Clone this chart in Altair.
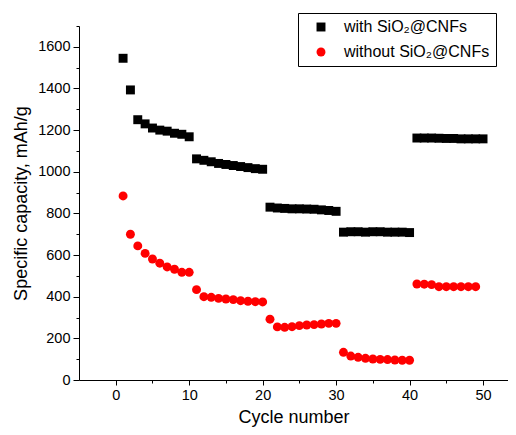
import altair as alt
import pandas as pd

cycles_with = list(range(1, 51))
cap_with = [1545, 1393, 1250, 1230, 1210, 1200, 1195, 1185, 1180, 1168,
            1062, 1055, 1048, 1040, 1035, 1030, 1025, 1020, 1015, 1012,
            830, 826, 824, 822, 822, 821, 820, 817, 814, 810,
            710, 712, 712, 710, 712, 712, 710, 710, 710, 708,
            1162, 1162, 1162, 1161, 1160, 1160, 1158, 1158, 1158, 1158]

cycles_without = list(range(1, 50))
cap_without = [884, 700, 644, 608, 581, 561, 543, 532, 517, 517,
               434, 400, 397, 392, 389, 386, 381, 378, 376, 375,
               292, 255, 253, 256, 261, 264, 266, 269, 272, 272,
               133, 115, 109, 104, 101, 99, 98, 96, 95, 95,
               461, 460, 458, 448, 448, 448, 448, 448, 448]

series_names = ["with SiO₂@CNFs", "without SiO₂@CNFs"]

df = pd.concat([
    pd.DataFrame({"cycle": cycles_with, "cap": cap_with, "series": series_names[0]}),
    pd.DataFrame({"cycle": cycles_without, "cap": cap_without, "series": series_names[1]}),
])

font = "Liberation Sans"

legend = alt.Legend(title=None, orient="none", legendX=219, legendY=-13,
                    strokeColor="black", padding=6, symbolOffset=9,
                    labelOffset=15, rowPadding=9, labelFontSize=16,
                    symbolSize=80, labelLimit=300)

chart = alt.Chart(df).mark_point(filled=True, opacity=1, size=80).encode(
    x=alt.X("cycle:Q", title="Cycle number",
            scale=alt.Scale(domain=[-5, 53.4], nice=False, zero=False),
            axis=alt.Axis(values=list(range(0, 55, 5)),
                          labelExpr="datum.value % 10 === 0 ? datum.label : ''",
                          tickSize={"condition": {"test": "datum.value % 10 === 0", "value": 5}, "value": 3},
                          grid=False, labelFontSize=14.5, titleFontSize=18,
                          labelPadding=3, titlePadding=7)),
    y=alt.Y("cap:Q", title="Specific capacity, mAh/g",
            scale=alt.Scale(domain=[0, 1700], nice=False),
            axis=alt.Axis(values=list(range(0, 1701, 100)),
                          labelExpr="datum.value % 200 === 0 ? datum.label : ''",
                          tickSize={"condition": {"test": "datum.value % 200 === 0", "value": 6}, "value": 3},
                          grid=False, labelFontSize=14.5, titleFontSize=18,
                          labelPadding=3, titlePadding=7, format="d")),
    color=alt.Color("series:N", scale=alt.Scale(domain=series_names, range=["#000000", "#ff0000"]),
                    legend=legend),
    shape=alt.Shape("series:N", scale=alt.Scale(domain=series_names, range=["square", "circle"]),
                    legend=legend),
).properties(
    width=429, height=354,
    autosize=alt.AutoSizeParams(type="none"),
    padding={"left": 71, "top": 18, "right": 0, "bottom": 47},
).configure_view(stroke=None).configure_axis(
    domainColor="black", tickColor="black", labelColor="black", titleColor="black",
    labelFont=font, titleFont=font, titleFontWeight="normal", domainWidth=1, tickWidth=1,
).configure_legend(labelFont=font, labelColor="black", symbolStrokeWidth=0)

chart.save("out.html", embed_options={"renderer": "svg", "actions": False})
